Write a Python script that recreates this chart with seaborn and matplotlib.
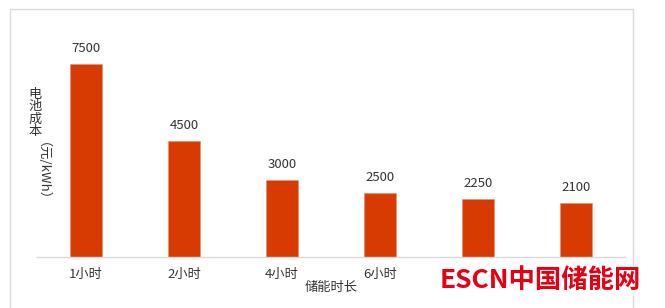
import matplotlib
matplotlib.use("Agg")
import matplotlib.pyplot as plt
import seaborn as sns
import pandas as pd
from matplotlib.patches import Rectangle

categories = ["1小时", "2小时", "4小时", "6小时", "8小时", "10小时"]
costs = [7500, 4500, 3000, 2500, 2250, 2100]

sns.set_theme(style="white")
plt.rcParams['font.family'] = ['Noto Sans CJK SC', 'DejaVu Sans']

W, H = 665, 308
fig = plt.figure(figsize=(W / 100, H / 100), dpi=100)
ax = fig.add_axes([37 / W, 1 - 257 / H, (625 - 37) / W, (257 - 20) / H])

df = pd.DataFrame({"cat": categories, "cost": costs})
sns.barplot(data=df, x="cat", y="cost", color="#D83B01", width=0.32,
            saturation=1, ax=ax, edgecolor="#E8896A", linewidth=0.4)

ax.set_xlim(-0.5, len(categories) - 0.5)
ax.set_ylim(0, 7500 * 237 / 193)
for i, v in enumerate(costs):
    ax.text(i, v + 7500 * 9 / 193, str(v), ha="center", va="bottom",
            fontsize=9.5, color="#333333")

for s in ["top", "right", "left"]:
    ax.spines[s].set_visible(False)
ax.spines["bottom"].set_color("#D9D9D9")
ax.spines["bottom"].set_linewidth(1)
ax.set_yticks([])
ax.set_ylabel("")
ax.tick_params(axis="x", length=0, pad=8, labelsize=9.5, labelcolor="#333333")
ax.set_xlabel("储能时长", fontsize=9.5, color="#333333", labelpad=0)

# vertical y label: upright CJK, rotated latin part
fig.text(35 / W, 1 - 113 / H, "电\n池\n成\n本", ha="center", va="center",
         fontsize=9.5, color="#333333", linespacing=0.95)
fig.text(35 / W, 1 - 178 / H, "（元/kWh）", ha="center", va="center",
         rotation=-90, fontsize=9.5, color="#333333")

# chart frame
fig.patches.append(Rectangle((10 / W, -0.05), (633 - 10) / W, 1.05 - 9 / H,
                             transform=fig.transFigure, fill=False,
                             edgecolor="#D9D9D9", linewidth=1))

# watermark
fig.text(540 / W, 1 - 281 / H, "ESCN中国储能网", ha="center", va="center",
         fontsize=19, fontweight="bold", color="#E60012",
         bbox=dict(facecolor="white", edgecolor="none", pad=1))

fig.savefig("out.png", dpi=100)
